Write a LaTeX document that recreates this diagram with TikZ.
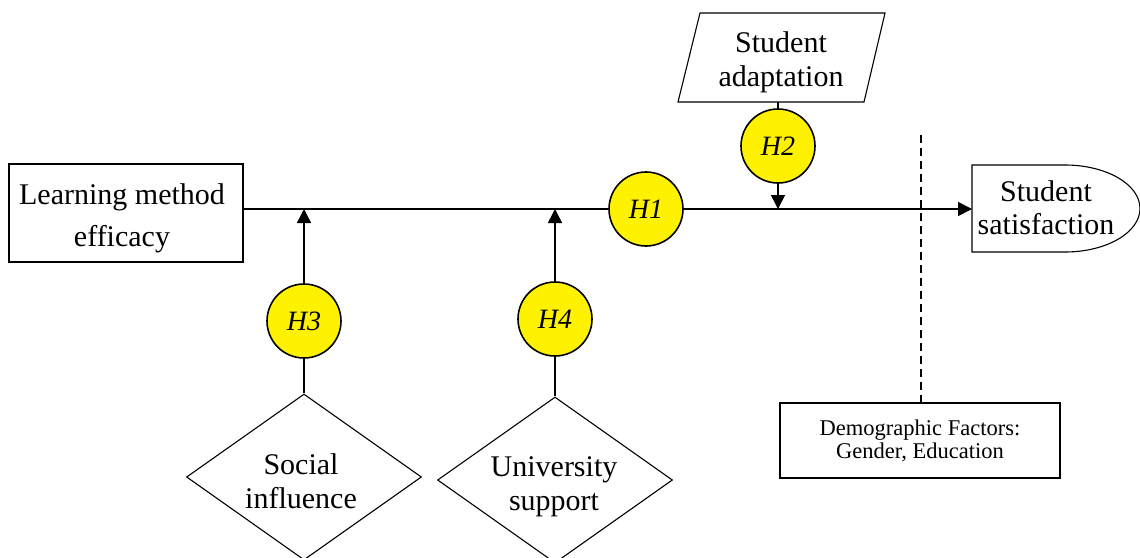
\documentclass[tikz,border=0pt]{standalone}
\usepackage{fontspec}
\setmainfont{Liberation Serif}
\usetikzlibrary{arrows.meta,shapes.geometric}
\begin{document}
\begin{tikzpicture}[x=1pt,y=-1pt,
  hyp/.style={circle, draw, line width=1.6pt, fill=yellow, minimum size=74pt, inner sep=0pt,
    font=\fontsize{28}{30}\selectfont\itshape},
  txt/.style={align=center, inner sep=0pt, font=\fontsize{30}{34}\selectfont},
  conn/.style={line width=1.6pt},
  arr/.style={conn, -{Triangle[length=14pt,width=14pt]}},
  outline/.style={draw, line width=1.1pt},
  dia/.style={outline, shape=diamond, inner sep=0pt, minimum width=235pt, minimum height=166pt},
  dashline/.style={line width=1.4pt, dash pattern=on 8pt off 5pt}]
\useasboundingbox (0,0) rectangle (1140,557);

% Learning method efficacy
\node[outline, minimum width=234pt, minimum height=98pt, inner sep=0pt] (learn) at (126,213) {};
\node[txt, font=\fontsize{30}{42}\selectfont] (learntxt) at (122,218) {Learning method\\efficacy};

% Student adaptation (parallelogram)
\draw[outline] (678,102) -- (700,13) -- (885,13) -- (864,102) -- cycle;
\coordinate (pbot) at (778,102);
\node[txt] (adapt) at (781,62) {Student\\adaptation};

% Student satisfaction
\draw[outline] (972,165) -- (1065,165) arc[start angle=-90, end angle=90, x radius=75, y radius=43.5] -- (972,252) -- cycle;
\coordinate (satw) at (972,209);
\node[txt, font=\fontsize{30}{33}\selectfont] (sat) at (1046,208) {Student\\satisfaction};

% Diamonds
\node[dia] (socd) at (304,477) {};
\node[txt] (soc) at (301,481) {Social\\influence};
\node[dia] (unid) at (555,480) {};
\node[txt] (uni) at (554,486.5) {University\\support};

% Demographic
\node[outline, minimum width=280pt, minimum height=75pt, inner sep=0pt, align=center,
  font=\fontsize{22.5}{23}\selectfont] (demo) at (920,440.5) {Demographic Factors:\\Gender, Education};
\coordinate (dtop) at (921,135);
\draw[dashline] (dtop) -- (dtop |- demo.north);

% Hypothesis circles
\node[hyp] (h1) at (646,209) {H1};
\node[hyp] (h2) at (778,146) {H2};
\node[hyp] (h3) at (304,321) {H3};
\node[hyp] (h4) at (555,319) {H4};

% Connectors
\draw[conn] (learn.east |- h1.west) -- (h1.west);
\draw[arr] (h1.east) -- (satw);
\draw[conn] (pbot) -- (h2.north);
\draw[arr] (h2.south) -- (h2.south |- h1.center);
\draw[arr] (h3.north) -- (h3.north |- h1.center);
\draw[conn] (h3.south) -- (socd.north);
\draw[arr] (h4.north) -- (h4.north |- h1.center);
\draw[conn] (h4.south) -- (unid.north);
\end{tikzpicture}
\end{document}
